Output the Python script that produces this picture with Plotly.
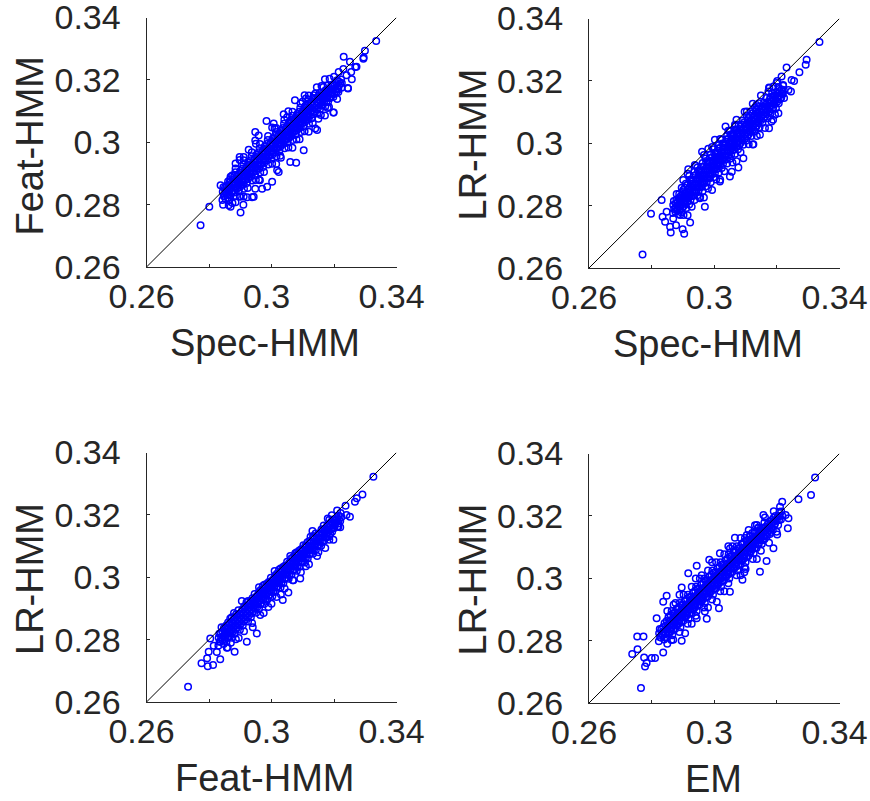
import plotly.graph_objects as go

# ---------------------------------------------------------------------------
# Per-utterance scores of the four systems, one list per axis of each panel.
# The "_B" lists hold the points of the densest middle part of each cloud,
# the "_C" lists the looser points along the edges of each cloud.
# ---------------------------------------------------------------------------

# Panel 1: Spec-HMM (x) against Feat-HMM (y)
SPEC_1 = [
    0.2843, 0.2847, 0.2844, 0.2846,
    0.2860, 0.2856, 0.2859, 0.2857, 0.2861,
    0.2869, 0.2873, 0.2870, 0.2872, 0.2868, 0.2874,
    0.2886, 0.2882, 0.2885, 0.2883, 0.2887, 0.2881, 0.2884,
    0.2895, 0.2899, 0.2896, 0.2898, 0.2894, 0.2900,
    0.2912, 0.2908, 0.2911, 0.2909, 0.2913, 0.2907, 0.2910,
    0.2921, 0.2925, 0.2922, 0.2924, 0.2920, 0.2926,
    0.2938, 0.2934, 0.2937, 0.2935, 0.2939, 0.2933, 0.2936,
    0.2947, 0.2951, 0.2948, 0.2950, 0.2946, 0.2952,
    0.2964, 0.2960, 0.2963, 0.2961, 0.2965, 0.2959, 0.2962,
    0.2973, 0.2977, 0.2974, 0.2976, 0.2972, 0.2978,
    0.2990, 0.2986, 0.2989, 0.2987, 0.2991, 0.2985, 0.2988,
    0.2999, 0.3003, 0.3000, 0.3002, 0.2998, 0.3004,
    0.3016, 0.3012, 0.3015, 0.3013, 0.3017, 0.3011, 0.3014,
    0.3025, 0.3029, 0.3026, 0.3028, 0.3024, 0.3030,
    0.3042, 0.3038, 0.3041, 0.3039, 0.3043, 0.3037, 0.3040,
    0.3051, 0.3055, 0.3052, 0.3054, 0.3050, 0.3056,
    0.3068, 0.3064, 0.3067, 0.3065, 0.3069, 0.3063, 0.3066,
    0.3077, 0.3081, 0.3078, 0.3080, 0.3076, 0.3082,
    0.3094, 0.3090, 0.3093, 0.3091, 0.3095, 0.3089, 0.3092,
    0.3103, 0.3107, 0.3104, 0.3106, 0.3102, 0.3108,
    0.3120, 0.3116, 0.3119, 0.3117, 0.3121, 0.3115, 0.3118,
    0.3129, 0.3133, 0.3130, 0.3132, 0.3128, 0.3134,
    0.3146, 0.3142, 0.3145, 0.3143, 0.3147, 0.3141,
    0.3155, 0.3159, 0.3156, 0.3158, 0.3154,
    0.3172, 0.3168, 0.3171, 0.3169, 0.3173,
    0.3181, 0.3185, 0.3182, 0.3184, 0.3180,
    0.3198, 0.3194, 0.3197, 0.3195,
    0.3207, 0.3211, 0.3208, 0.3210,
    0.3224, 0.3220, 0.3223,
    0.3335, 0.3299, 0.3295, 0.3231, 0.3251, 0.3272,
    0.3245, 0.3199, 0.3186, 0.3075, 0.3099, 0.2984,
    0.3039, 0.3079, 0.2773, 0.2801, 0.2901, 0.2837,
    0.2885, 0.2927, 0.2898, 0.2863, 0.2869, 0.2943,
    0.2986, 0.3018, 0.3146, 0.2869, 0.2948, 0.3007,
    0.3135, 0.3166, 0.2948, 0.2911, 0.2959, 0.2853,
    0.2863, 0.2938, 0.2970, 0.3002, 0.3023, 0.3060,
    0.3103, 0.3140, 0.3198, 0.3244, 0.3257, 0.3268,
    0.3294, 0.3255, 0.3214, 0.2922, 0.2885, 0.2948,
    0.3010, 0.3050, 0.3110, 0.3160, 0.3200, 0.3215,
    0.3230, 0.3240, 0.3225, 0.3030, 0.3090, 0.3150,
    0.3180, 0.2960, 0.2900, 0.2845, 0.2875, 0.2910,
    0.2855,
]
FEAT_1 = [
    0.2815, 0.2828, 0.2841, 0.2856,
    0.2822, 0.2835, 0.2849, 0.2861, 0.2874,
    0.2829, 0.2842, 0.2855, 0.2868, 0.2881, 0.2893,
    0.2827, 0.2840, 0.2853, 0.2866, 0.2879, 0.2892, 0.2904,
    0.2843, 0.2856, 0.2869, 0.2882, 0.2895, 0.2908,
    0.2851, 0.2864, 0.2877, 0.2890, 0.2903, 0.2916, 0.2929,
    0.2869, 0.2882, 0.2895, 0.2908, 0.2921, 0.2934,
    0.2877, 0.2890, 0.2903, 0.2916, 0.2929, 0.2942, 0.2955,
    0.2895, 0.2908, 0.2921, 0.2934, 0.2947, 0.2960,
    0.2903, 0.2916, 0.2929, 0.2942, 0.2955, 0.2968, 0.2981,
    0.2921, 0.2934, 0.2947, 0.2960, 0.2973, 0.2986,
    0.2929, 0.2942, 0.2955, 0.2968, 0.2981, 0.2994, 0.3007,
    0.2947, 0.2960, 0.2973, 0.2986, 0.2999, 0.3012,
    0.2955, 0.2968, 0.2981, 0.2994, 0.3007, 0.3020, 0.3033,
    0.2973, 0.2986, 0.2999, 0.3012, 0.3025, 0.3038,
    0.2981, 0.2994, 0.3007, 0.3020, 0.3033, 0.3046, 0.3059,
    0.2999, 0.3012, 0.3025, 0.3038, 0.3051, 0.3064,
    0.3007, 0.3020, 0.3033, 0.3046, 0.3059, 0.3072, 0.3085,
    0.3025, 0.3038, 0.3051, 0.3064, 0.3077, 0.3090,
    0.3033, 0.3046, 0.3059, 0.3072, 0.3085, 0.3098, 0.3111,
    0.3051, 0.3064, 0.3077, 0.3090, 0.3103, 0.3116,
    0.3059, 0.3072, 0.3085, 0.3098, 0.3111, 0.3124, 0.3137,
    0.3077, 0.3090, 0.3103, 0.3116, 0.3129, 0.3142,
    0.3092, 0.3105, 0.3118, 0.3131, 0.3144, 0.3157,
    0.3106, 0.3119, 0.3132, 0.3145, 0.3158,
    0.3115, 0.3128, 0.3141, 0.3154, 0.3167,
    0.3130, 0.3143, 0.3156, 0.3169, 0.3182,
    0.3145, 0.3158, 0.3171, 0.3184,
    0.3160, 0.3173, 0.3186, 0.3199,
    0.3175, 0.3188, 0.3201,
    0.3325, 0.3293, 0.3272, 0.3274, 0.3258, 0.3242,
    0.3172, 0.3095, 0.3204, 0.3135, 0.3130, 0.3068,
    0.3090, 0.2934, 0.2734, 0.2793, 0.2775, 0.2862,
    0.2932, 0.2976, 0.2953, 0.2814, 0.2793, 0.2825,
    0.2857, 0.2910, 0.3039, 0.2889, 0.3006, 0.3060,
    0.3151, 0.3177, 0.3033, 0.2953, 0.3022, 0.2819,
    0.2798, 0.2824, 0.2851, 0.2873, 0.2905, 0.2937,
    0.2974, 0.3044, 0.3095, 0.3174, 0.3202, 0.3241,
    0.3268, 0.3225, 0.3161, 0.2824, 0.2808, 0.2851,
    0.3045, 0.3080, 0.3140, 0.3180, 0.3210, 0.3225,
    0.3235, 0.3215, 0.3190, 0.2950, 0.3010, 0.3075,
    0.3110, 0.2880, 0.2825, 0.2800, 0.2805, 0.2800,
    0.2840,
]
SPEC_1B = [
    0.2850, 0.2852, 0.2851,
    0.2863, 0.2865, 0.2864, 0.2866,
    0.2876, 0.2878, 0.2877, 0.2879,
    0.2889, 0.2891, 0.2890, 0.2892,
    0.2902, 0.2904, 0.2903, 0.2905,
    0.2915, 0.2917, 0.2916, 0.2918,
    0.2928, 0.2930, 0.2929, 0.2931,
    0.2941, 0.2943, 0.2942, 0.2944,
    0.2954, 0.2956, 0.2955, 0.2957,
    0.2967, 0.2969, 0.2968, 0.2970,
    0.2980, 0.2982, 0.2981, 0.2983,
    0.2993, 0.2995, 0.2994, 0.2996,
    0.3006, 0.3008, 0.3007, 0.3009,
    0.3019, 0.3021, 0.3020, 0.3022,
    0.3032, 0.3034, 0.3033, 0.3035,
    0.3045, 0.3047, 0.3046, 0.3048,
    0.3058, 0.3060, 0.3059, 0.3061,
    0.3071, 0.3073, 0.3072, 0.3074,
    0.3084, 0.3086, 0.3085, 0.3087,
    0.3097, 0.3099, 0.3098, 0.3100,
    0.3110, 0.3112, 0.3111, 0.3113,
    0.3123, 0.3125, 0.3124, 0.3126,
    0.3136, 0.3138, 0.3137, 0.3139,
    0.3149, 0.3151, 0.3150, 0.3152,
    0.3162, 0.3164, 0.3163, 0.3165,
    0.3175, 0.3177, 0.3176, 0.3178,
    0.3188, 0.3190, 0.3189, 0.3191,
    0.3201, 0.3203, 0.3202,
    0.3214, 0.3216, 0.3215,
]
FEAT_1B = [
    0.2827, 0.2840, 0.2853,
    0.2833, 0.2846, 0.2859, 0.2872,
    0.2842, 0.2855, 0.2868, 0.2881,
    0.2851, 0.2864, 0.2877, 0.2890,
    0.2864, 0.2877, 0.2890, 0.2903,
    0.2877, 0.2890, 0.2903, 0.2916,
    0.2890, 0.2903, 0.2916, 0.2929,
    0.2903, 0.2916, 0.2929, 0.2942,
    0.2916, 0.2929, 0.2942, 0.2955,
    0.2929, 0.2942, 0.2955, 0.2968,
    0.2942, 0.2955, 0.2968, 0.2981,
    0.2955, 0.2968, 0.2981, 0.2994,
    0.2968, 0.2981, 0.2994, 0.3007,
    0.2981, 0.2994, 0.3007, 0.3020,
    0.2994, 0.3007, 0.3020, 0.3033,
    0.3007, 0.3020, 0.3033, 0.3046,
    0.3020, 0.3033, 0.3046, 0.3059,
    0.3033, 0.3046, 0.3059, 0.3072,
    0.3046, 0.3059, 0.3072, 0.3085,
    0.3059, 0.3072, 0.3085, 0.3098,
    0.3072, 0.3085, 0.3098, 0.3111,
    0.3085, 0.3098, 0.3111, 0.3124,
    0.3098, 0.3111, 0.3124, 0.3137,
    0.3111, 0.3124, 0.3137, 0.3150,
    0.3120, 0.3133, 0.3146, 0.3159,
    0.3129, 0.3142, 0.3155, 0.3168,
    0.3142, 0.3155, 0.3168, 0.3181,
    0.3155, 0.3168, 0.3181,
    0.3169, 0.3182, 0.3195,
]
SPEC_1C = [
    0.2885, 0.2911, 0.2937, 0.2963, 0.2989, 0.3015,
    0.3041, 0.3067, 0.3093, 0.3119, 0.3145, 0.3171,
    0.2898, 0.2950, 0.3002, 0.3054, 0.3106,
    0.2898, 0.2924, 0.2950, 0.2976, 0.3002, 0.3028, 0.3054,
    0.3080, 0.3106, 0.3132, 0.3158, 0.3184, 0.3210,
    0.2911, 0.2963, 0.3015, 0.3067, 0.3119, 0.3171,
]
FEAT_1C = [
    0.2916, 0.2942, 0.2968, 0.2994, 0.3020, 0.3046,
    0.3072, 0.3098, 0.3124, 0.3150, 0.3176, 0.3202,
    0.2943, 0.2995, 0.3047, 0.3099, 0.3151,
    0.2827, 0.2853, 0.2879, 0.2905, 0.2931, 0.2957, 0.2983,
    0.3009, 0.3035, 0.3061, 0.3087, 0.3113, 0.3139,
    0.2826, 0.2878, 0.2930, 0.2982, 0.3034, 0.3086,
]

# Panel 2: Spec-HMM (x) against LR-HMM (y)
SPEC_2 = [
    0.2868, 0.2872, 0.2869, 0.2871,
    0.2885, 0.2881, 0.2884, 0.2882, 0.2886, 0.2880,
    0.2894, 0.2898, 0.2895, 0.2897, 0.2893, 0.2899, 0.2896,
    0.2911, 0.2907, 0.2910, 0.2908, 0.2912, 0.2906, 0.2909,
    0.2920, 0.2924, 0.2921, 0.2923, 0.2919, 0.2925, 0.2922, 0.2920,
    0.2937, 0.2933, 0.2936, 0.2934, 0.2938, 0.2932, 0.2935, 0.2937,
    0.2946, 0.2950, 0.2947, 0.2949, 0.2945, 0.2951, 0.2948, 0.2946,
    0.2963, 0.2959, 0.2962, 0.2960, 0.2964, 0.2958, 0.2961, 0.2963,
    0.2972, 0.2976, 0.2973, 0.2975, 0.2971, 0.2977, 0.2974, 0.2972,
    0.2989, 0.2985, 0.2988, 0.2986, 0.2990, 0.2984, 0.2987, 0.2989,
    0.2998, 0.3002, 0.2999, 0.3001, 0.2997, 0.3003, 0.3000, 0.2998,
    0.3015, 0.3011, 0.3014, 0.3012, 0.3016, 0.3010, 0.3013, 0.3015,
    0.3024, 0.3028, 0.3025, 0.3027, 0.3023, 0.3029, 0.3026, 0.3024,
    0.3041, 0.3037, 0.3040, 0.3038, 0.3042, 0.3036, 0.3039, 0.3041,
    0.3050, 0.3054, 0.3051, 0.3053, 0.3049, 0.3055, 0.3052, 0.3050,
    0.3067, 0.3063, 0.3066, 0.3064, 0.3068, 0.3062, 0.3065, 0.3067,
    0.3076, 0.3080, 0.3077, 0.3079, 0.3075, 0.3081, 0.3078,
    0.3093, 0.3089, 0.3092, 0.3090, 0.3094, 0.3088, 0.3091,
    0.3102, 0.3106, 0.3103, 0.3105, 0.3101, 0.3107, 0.3104,
    0.3119, 0.3115, 0.3118, 0.3116, 0.3120, 0.3114, 0.3117,
    0.3128, 0.3132, 0.3129, 0.3131, 0.3127, 0.3133, 0.3130,
    0.3145, 0.3141, 0.3144, 0.3142, 0.3146, 0.3140, 0.3143,
    0.3154, 0.3158, 0.3155, 0.3157, 0.3153, 0.3159,
    0.3171, 0.3167, 0.3170, 0.3168, 0.3172, 0.3166,
    0.3180, 0.3184, 0.3181, 0.3183, 0.3179, 0.3185,
    0.3197, 0.3193, 0.3196, 0.3194, 0.3198,
    0.3206, 0.3210, 0.3207, 0.3209, 0.3205,
    0.3223, 0.3219, 0.3222, 0.3220,
    0.3336, 0.3295, 0.3292, 0.3272, 0.3231, 0.3255,
    0.3245, 0.3194, 0.3176, 0.3036, 0.3125, 0.2961,
    0.2917, 0.2832, 0.2798, 0.2771, 0.2835, 0.2859,
    0.2861, 0.2899, 0.2904, 0.2923, 0.2869, 0.2883,
    0.3077, 0.3050, 0.2970, 0.2901, 0.2938, 0.2981,
    0.3002, 0.3066, 0.3104, 0.3135, 0.3173, 0.3199,
    0.3220, 0.3237, 0.3247, 0.3215, 0.3189, 0.2891,
    0.2955, 0.2993, 0.3018, 0.3056, 0.3093, 0.3146,
    0.3183, 0.3205, 0.2848, 0.2878, 0.2843,
]
LR_2 = [
    0.2776, 0.2789, 0.2802, 0.2815,
    0.2772, 0.2785, 0.2798, 0.2811, 0.2824, 0.2837,
    0.2779, 0.2792, 0.2805, 0.2818, 0.2831, 0.2844, 0.2857,
    0.2792, 0.2805, 0.2818, 0.2831, 0.2844, 0.2857, 0.2870,
    0.2804, 0.2817, 0.2830, 0.2843, 0.2856, 0.2869, 0.2882, 0.2895,
    0.2818, 0.2831, 0.2844, 0.2857, 0.2870, 0.2883, 0.2896, 0.2909,
    0.2833, 0.2846, 0.2859, 0.2872, 0.2885, 0.2898, 0.2911, 0.2922,
    0.2847, 0.2860, 0.2873, 0.2886, 0.2899, 0.2912, 0.2925, 0.2937,
    0.2861, 0.2874, 0.2887, 0.2900, 0.2913, 0.2926, 0.2939, 0.2951,
    0.2875, 0.2888, 0.2901, 0.2914, 0.2927, 0.2940, 0.2953, 0.2965,
    0.2891, 0.2904, 0.2917, 0.2930, 0.2943, 0.2956, 0.2969, 0.2981,
    0.2906, 0.2919, 0.2932, 0.2945, 0.2958, 0.2971, 0.2984, 0.2996,
    0.2921, 0.2934, 0.2947, 0.2960, 0.2973, 0.2986, 0.2999, 0.3011,
    0.2935, 0.2948, 0.2961, 0.2974, 0.2987, 0.3000, 0.3013, 0.3025,
    0.2950, 0.2963, 0.2976, 0.2989, 0.3002, 0.3015, 0.3028, 0.3040,
    0.2966, 0.2979, 0.2992, 0.3005, 0.3018, 0.3031, 0.3044, 0.3055,
    0.2981, 0.2994, 0.3007, 0.3020, 0.3033, 0.3046, 0.3059,
    0.2995, 0.3008, 0.3021, 0.3034, 0.3047, 0.3060, 0.3073,
    0.3009, 0.3022, 0.3035, 0.3048, 0.3061, 0.3074, 0.3087,
    0.3023, 0.3036, 0.3049, 0.3062, 0.3075, 0.3088, 0.3101,
    0.3037, 0.3050, 0.3063, 0.3076, 0.3089, 0.3102, 0.3115,
    0.3051, 0.3064, 0.3077, 0.3090, 0.3103, 0.3116, 0.3128,
    0.3066, 0.3079, 0.3092, 0.3105, 0.3118, 0.3131,
    0.3080, 0.3093, 0.3106, 0.3119, 0.3132, 0.3145,
    0.3096, 0.3109, 0.3122, 0.3135, 0.3148, 0.3161,
    0.3112, 0.3125, 0.3138, 0.3151, 0.3164,
    0.3128, 0.3141, 0.3154, 0.3167, 0.3180,
    0.3145, 0.3158, 0.3171, 0.3184,
    0.3325, 0.3268, 0.3252, 0.3228, 0.3243, 0.3200,
    0.3166, 0.3091, 0.3177, 0.3054, 0.2997, 0.2973,
    0.2917, 0.2818, 0.2774, 0.2643, 0.2764, 0.2732,
    0.2714, 0.2724, 0.2710, 0.2746, 0.2759, 0.2786,
    0.2922, 0.2893, 0.2796, 0.2882, 0.2930, 0.2982,
    0.3011, 0.3059, 0.3102, 0.3123, 0.3166, 0.3193,
    0.3187, 0.3171, 0.3203, 0.3214, 0.3182, 0.2770,
    0.2828, 0.2850, 0.2877, 0.2909, 0.2952, 0.3027,
    0.3070, 0.3096, 0.2780, 0.2737, 0.2748,
]
SPEC_2B = [
    0.2876, 0.2878, 0.2877, 0.2879,
    0.2889, 0.2891, 0.2890, 0.2892, 0.2888,
    0.2902, 0.2904, 0.2903, 0.2905, 0.2901,
    0.2915, 0.2917, 0.2916, 0.2918, 0.2914,
    0.2928, 0.2930, 0.2929, 0.2931, 0.2927,
    0.2941, 0.2943, 0.2942, 0.2944, 0.2940,
    0.2954, 0.2956, 0.2955, 0.2957, 0.2953,
    0.2967, 0.2969, 0.2968, 0.2970, 0.2966,
    0.2980, 0.2982, 0.2981, 0.2983, 0.2979,
    0.2993, 0.2995, 0.2994, 0.2996, 0.2992,
    0.3006, 0.3008, 0.3007, 0.3009, 0.3005,
    0.3019, 0.3021, 0.3020, 0.3022, 0.3018,
    0.3032, 0.3034, 0.3033, 0.3035, 0.3031,
    0.3045, 0.3047, 0.3046, 0.3048, 0.3044,
    0.3058, 0.3060, 0.3059, 0.3061, 0.3057,
    0.3071, 0.3073, 0.3072, 0.3074, 0.3070,
    0.3084, 0.3086, 0.3085, 0.3087, 0.3083,
    0.3097, 0.3099, 0.3098, 0.3100, 0.3096,
    0.3110, 0.3112, 0.3111, 0.3113, 0.3109,
    0.3123, 0.3125, 0.3124, 0.3126, 0.3122,
    0.3136, 0.3138, 0.3137, 0.3139, 0.3135,
    0.3149, 0.3151, 0.3150, 0.3152,
    0.3162, 0.3164, 0.3163, 0.3165,
    0.3175, 0.3177, 0.3176, 0.3178,
    0.3188, 0.3190, 0.3189, 0.3191,
    0.3201, 0.3203, 0.3202,
    0.3214, 0.3216, 0.3215,
]
LR_2B = [
    0.2780, 0.2793, 0.2806, 0.2819,
    0.2785, 0.2798, 0.2811, 0.2824, 0.2837,
    0.2798, 0.2811, 0.2824, 0.2837, 0.2850,
    0.2814, 0.2827, 0.2840, 0.2853, 0.2866,
    0.2831, 0.2844, 0.2857, 0.2870, 0.2883,
    0.2845, 0.2858, 0.2871, 0.2884, 0.2897,
    0.2858, 0.2871, 0.2884, 0.2897, 0.2910,
    0.2873, 0.2886, 0.2899, 0.2912, 0.2925,
    0.2887, 0.2900, 0.2913, 0.2926, 0.2939,
    0.2902, 0.2915, 0.2928, 0.2941, 0.2954,
    0.2917, 0.2930, 0.2943, 0.2956, 0.2969,
    0.2932, 0.2945, 0.2958, 0.2971, 0.2984,
    0.2947, 0.2960, 0.2973, 0.2986, 0.2999,
    0.2961, 0.2974, 0.2987, 0.3000, 0.3013,
    0.2977, 0.2990, 0.3003, 0.3016, 0.3029,
    0.2989, 0.3002, 0.3015, 0.3028, 0.3041,
    0.3001, 0.3014, 0.3027, 0.3040, 0.3053,
    0.3015, 0.3028, 0.3041, 0.3054, 0.3067,
    0.3029, 0.3042, 0.3055, 0.3068, 0.3081,
    0.3043, 0.3056, 0.3069, 0.3082, 0.3095,
    0.3056, 0.3069, 0.3082, 0.3095, 0.3108,
    0.3074, 0.3087, 0.3100, 0.3113,
    0.3085, 0.3098, 0.3111, 0.3124,
    0.3101, 0.3114, 0.3127, 0.3140,
    0.3113, 0.3126, 0.3139, 0.3152,
    0.3133, 0.3146, 0.3159,
    0.3146, 0.3159, 0.3172,
]
SPEC_2C = [
    0.2915, 0.2941, 0.2967, 0.2993, 0.3019, 0.3045,
    0.3071, 0.3097, 0.3123, 0.3149, 0.3175, 0.3201,
    0.2902, 0.2928, 0.2954, 0.2980, 0.3006, 0.3032,
    0.3058, 0.3084, 0.3110, 0.3136, 0.3162, 0.3188,
    0.2915, 0.2967, 0.3019, 0.3071, 0.3123, 0.3175,
]
LR_2C = [
    0.2902, 0.2928, 0.2962, 0.2988, 0.3014, 0.3040,
    0.3075, 0.3101, 0.3127, 0.3153, 0.3179, 0.3200,
    0.2770, 0.2796, 0.2824, 0.2855, 0.2884, 0.2910,
    0.2938, 0.2971, 0.2997, 0.3023, 0.3049, 0.3075,
    0.2769, 0.2826, 0.2883, 0.2942, 0.2996, 0.3048,
]

# Panel 3: Feat-HMM (x) against LR-HMM (y)
FEAT_3 = [
    0.2830, 0.2834, 0.2831, 0.2833,
    0.2847, 0.2843, 0.2846, 0.2844, 0.2848,
    0.2856, 0.2860, 0.2857, 0.2859, 0.2855, 0.2861,
    0.2873, 0.2869, 0.2872, 0.2870, 0.2874, 0.2868,
    0.2882, 0.2886, 0.2883, 0.2885, 0.2881, 0.2887,
    0.2899, 0.2895, 0.2898, 0.2896, 0.2900, 0.2894,
    0.2908, 0.2912, 0.2909, 0.2911, 0.2907, 0.2913,
    0.2925, 0.2921, 0.2924, 0.2922, 0.2926, 0.2920,
    0.2934, 0.2938, 0.2935, 0.2937, 0.2933, 0.2939,
    0.2951, 0.2947, 0.2950, 0.2948, 0.2952, 0.2946,
    0.2960, 0.2964, 0.2961, 0.2963, 0.2959, 0.2965,
    0.2977, 0.2973, 0.2976, 0.2974, 0.2978, 0.2972,
    0.2986, 0.2990, 0.2987, 0.2989, 0.2985, 0.2991,
    0.3003, 0.2999, 0.3002, 0.3000, 0.3004, 0.2998,
    0.3012, 0.3016, 0.3013, 0.3015, 0.3011, 0.3017,
    0.3029, 0.3025, 0.3028, 0.3026, 0.3030, 0.3024,
    0.3038, 0.3042, 0.3039, 0.3041, 0.3037, 0.3043,
    0.3055, 0.3051, 0.3054, 0.3052, 0.3056, 0.3050,
    0.3064, 0.3068, 0.3065, 0.3067, 0.3063, 0.3069,
    0.3081, 0.3077, 0.3080, 0.3078, 0.3082, 0.3076,
    0.3090, 0.3094, 0.3091, 0.3093, 0.3089, 0.3095,
    0.3107, 0.3103, 0.3106, 0.3104, 0.3108, 0.3102,
    0.3116, 0.3120, 0.3117, 0.3119, 0.3115, 0.3121,
    0.3133, 0.3129, 0.3132, 0.3130, 0.3134,
    0.3142, 0.3146, 0.3143, 0.3145, 0.3141,
    0.3159, 0.3155, 0.3158, 0.3156, 0.3160,
    0.3168, 0.3172, 0.3169, 0.3171, 0.3167,
    0.3185, 0.3181, 0.3184, 0.3182,
    0.3194, 0.3198, 0.3195, 0.3197,
    0.3211, 0.3207, 0.3210,
    0.3220, 0.3224, 0.3221,
    0.3326, 0.3291, 0.3273, 0.3267, 0.3251, 0.3237,
    0.3214, 0.3131, 0.3092, 0.3054, 0.3036, 0.2905,
    0.2733, 0.2776, 0.2796, 0.2813, 0.2794, 0.2799,
    0.2836, 0.2882, 0.2804, 0.2857, 0.2921, 0.2953,
    0.3193, 0.2870, 0.2895, 0.2940, 0.2975, 0.3000,
    0.3030, 0.3070, 0.3110, 0.3150, 0.3185, 0.3220,
    0.3240, 0.2815, 0.2825, 0.2840, 0.2880, 0.2960,
    0.3010, 0.3060, 0.3125, 0.3180, 0.3210,
]
LR_3 = [
    0.2780, 0.2793, 0.2806, 0.2819,
    0.2786, 0.2799, 0.2812, 0.2825, 0.2838,
    0.2793, 0.2806, 0.2819, 0.2832, 0.2845, 0.2855,
    0.2806, 0.2819, 0.2832, 0.2845, 0.2858, 0.2868,
    0.2819, 0.2832, 0.2845, 0.2858, 0.2871, 0.2881,
    0.2832, 0.2845, 0.2858, 0.2871, 0.2884, 0.2894,
    0.2845, 0.2858, 0.2871, 0.2884, 0.2897, 0.2907,
    0.2858, 0.2871, 0.2884, 0.2897, 0.2910, 0.2920,
    0.2872, 0.2885, 0.2898, 0.2911, 0.2924, 0.2933,
    0.2886, 0.2899, 0.2912, 0.2925, 0.2938, 0.2946,
    0.2900, 0.2913, 0.2926, 0.2939, 0.2952, 0.2959,
    0.2914, 0.2927, 0.2940, 0.2953, 0.2966, 0.2972,
    0.2927, 0.2940, 0.2953, 0.2966, 0.2979, 0.2985,
    0.2940, 0.2953, 0.2966, 0.2979, 0.2992, 0.2998,
    0.2953, 0.2966, 0.2979, 0.2992, 0.3005, 0.3011,
    0.2967, 0.2980, 0.2993, 0.3006, 0.3019, 0.3024,
    0.2981, 0.2994, 0.3007, 0.3020, 0.3033, 0.3037,
    0.2995, 0.3008, 0.3021, 0.3034, 0.3046, 0.3050,
    0.3008, 0.3021, 0.3034, 0.3047, 0.3060, 0.3064,
    0.3021, 0.3034, 0.3047, 0.3060, 0.3073, 0.3077,
    0.3034, 0.3047, 0.3060, 0.3073, 0.3086, 0.3090,
    0.3047, 0.3060, 0.3073, 0.3086, 0.3099, 0.3103,
    0.3060, 0.3073, 0.3086, 0.3099, 0.3112, 0.3116,
    0.3075, 0.3088, 0.3101, 0.3114, 0.3127,
    0.3088, 0.3101, 0.3114, 0.3127, 0.3140,
    0.3101, 0.3114, 0.3127, 0.3140, 0.3153,
    0.3116, 0.3129, 0.3142, 0.3155, 0.3166,
    0.3131, 0.3144, 0.3157, 0.3170,
    0.3146, 0.3159, 0.3172, 0.3185,
    0.3163, 0.3176, 0.3189,
    0.3180, 0.3193, 0.3206,
    0.3322, 0.3265, 0.3253, 0.3242, 0.3194, 0.3229,
    0.3162, 0.3148, 0.2996, 0.2951, 0.2927, 0.2924,
    0.2649, 0.2724, 0.2715, 0.2719, 0.2740, 0.2761,
    0.2737, 0.2761, 0.2804, 0.2774, 0.2793, 0.2820,
    0.3199, 0.2790, 0.2805, 0.2840, 0.2885, 0.2915,
    0.2945, 0.2990, 0.3035, 0.3080, 0.3120, 0.3160,
    0.3200, 0.2780, 0.2760, 0.2840, 0.2885, 0.2968,
    0.3020, 0.3068, 0.3130, 0.3188, 0.3214,
]
FEAT_3B = [
    0.2837, 0.2839, 0.2838,
    0.2850, 0.2852, 0.2851, 0.2853,
    0.2863, 0.2865, 0.2864, 0.2866,
    0.2876, 0.2878, 0.2877, 0.2879,
    0.2889, 0.2891, 0.2890, 0.2892,
    0.2902, 0.2904, 0.2903, 0.2905,
    0.2915, 0.2917, 0.2916, 0.2918,
    0.2928, 0.2930, 0.2929, 0.2931,
    0.2941, 0.2943, 0.2942, 0.2944,
    0.2954, 0.2956, 0.2955, 0.2957,
    0.2967, 0.2969, 0.2968, 0.2970,
    0.2980, 0.2982, 0.2981, 0.2983,
    0.2993, 0.2995, 0.2994, 0.2996,
    0.3006, 0.3008, 0.3007, 0.3009,
    0.3019, 0.3021, 0.3020, 0.3022,
    0.3032, 0.3034, 0.3033, 0.3035,
    0.3045, 0.3047, 0.3046, 0.3048,
    0.3058, 0.3060, 0.3059, 0.3061,
    0.3071, 0.3073, 0.3072, 0.3074,
    0.3084, 0.3086, 0.3085, 0.3087,
    0.3097, 0.3099, 0.3098, 0.3100,
    0.3110, 0.3112, 0.3111, 0.3113,
    0.3123, 0.3125, 0.3124, 0.3126,
    0.3136, 0.3138, 0.3137, 0.3139,
    0.3149, 0.3151, 0.3150, 0.3152,
    0.3162, 0.3164, 0.3163, 0.3165,
    0.3175, 0.3177, 0.3176, 0.3178,
    0.3188, 0.3190, 0.3189, 0.3191,
    0.3201, 0.3203, 0.3202,
    0.3214, 0.3216, 0.3215,
]
LR_3B = [
    0.2793, 0.2806, 0.2819,
    0.2799, 0.2812, 0.2825, 0.2838,
    0.2811, 0.2824, 0.2837, 0.2850,
    0.2825, 0.2838, 0.2851, 0.2864,
    0.2838, 0.2851, 0.2864, 0.2877,
    0.2851, 0.2864, 0.2877, 0.2890,
    0.2864, 0.2877, 0.2890, 0.2903,
    0.2877, 0.2890, 0.2903, 0.2916,
    0.2890, 0.2903, 0.2916, 0.2929,
    0.2904, 0.2917, 0.2930, 0.2943,
    0.2917, 0.2930, 0.2943, 0.2956,
    0.2930, 0.2943, 0.2956, 0.2969,
    0.2943, 0.2956, 0.2969, 0.2982,
    0.2956, 0.2969, 0.2982, 0.2995,
    0.2970, 0.2983, 0.2996, 0.3009,
    0.2983, 0.2996, 0.3009, 0.3022,
    0.2997, 0.3010, 0.3023, 0.3036,
    0.3010, 0.3023, 0.3036, 0.3049,
    0.3023, 0.3036, 0.3049, 0.3062,
    0.3036, 0.3049, 0.3062, 0.3075,
    0.3049, 0.3062, 0.3075, 0.3088,
    0.3062, 0.3075, 0.3088, 0.3101,
    0.3075, 0.3088, 0.3101, 0.3114,
    0.3088, 0.3101, 0.3114, 0.3127,
    0.3101, 0.3114, 0.3127, 0.3140,
    0.3115, 0.3128, 0.3141, 0.3154,
    0.3127, 0.3140, 0.3153, 0.3166,
    0.3139, 0.3152, 0.3165, 0.3178,
    0.3158, 0.3171, 0.3184,
    0.3172, 0.3185, 0.3198,
]
FEAT_3C = [
    0.2860, 0.2886, 0.2912, 0.2938, 0.2964, 0.2990, 0.3016,
    0.3042, 0.3068, 0.3094, 0.3120, 0.3146, 0.3172, 0.3198,
    0.2873, 0.2925, 0.2977, 0.3029, 0.3081, 0.3133, 0.3185,
]
LR_3C = [
    0.2775, 0.2801, 0.2827, 0.2853, 0.2879, 0.2905, 0.2937,
    0.2964, 0.2990, 0.3016, 0.3042, 0.3068, 0.3094, 0.3120,
    0.2872, 0.2924, 0.2976, 0.3028, 0.3080, 0.3132, 0.3184,
]

# Panel 4: EM (x) against LR-HMM (y)
EM_4 = [
    0.2823, 0.2827, 0.2824, 0.2826,
    0.2840, 0.2836, 0.2839, 0.2837, 0.2841,
    0.2849, 0.2853, 0.2850, 0.2852, 0.2848, 0.2854,
    0.2866, 0.2862, 0.2865, 0.2863, 0.2867, 0.2861, 0.2864,
    0.2875, 0.2879, 0.2876, 0.2878, 0.2874, 0.2880,
    0.2892, 0.2888, 0.2891, 0.2889, 0.2893, 0.2887, 0.2890,
    0.2901, 0.2905, 0.2902, 0.2904, 0.2900, 0.2906,
    0.2918, 0.2914, 0.2917, 0.2915, 0.2919, 0.2913, 0.2916,
    0.2927, 0.2931, 0.2928, 0.2930, 0.2926, 0.2932,
    0.2944, 0.2940, 0.2943, 0.2941, 0.2945, 0.2939, 0.2942,
    0.2953, 0.2957, 0.2954, 0.2956, 0.2952, 0.2958,
    0.2970, 0.2966, 0.2969, 0.2967, 0.2971, 0.2965, 0.2968,
    0.2979, 0.2983, 0.2980, 0.2982, 0.2978, 0.2984,
    0.2996, 0.2992, 0.2995, 0.2993, 0.2997, 0.2991, 0.2994,
    0.3005, 0.3009, 0.3006, 0.3008, 0.3004, 0.3010,
    0.3022, 0.3018, 0.3021, 0.3019, 0.3023, 0.3017, 0.3020,
    0.3031, 0.3035, 0.3032, 0.3034, 0.3030, 0.3036,
    0.3048, 0.3044, 0.3047, 0.3045, 0.3049, 0.3043, 0.3046,
    0.3057, 0.3061, 0.3058, 0.3060, 0.3056, 0.3062,
    0.3074, 0.3070, 0.3073, 0.3071, 0.3075, 0.3069, 0.3072,
    0.3083, 0.3087, 0.3084, 0.3086, 0.3082, 0.3088,
    0.3100, 0.3096, 0.3099, 0.3097, 0.3101, 0.3095, 0.3098,
    0.3109, 0.3113, 0.3110, 0.3112, 0.3108, 0.3114,
    0.3126, 0.3122, 0.3125, 0.3123, 0.3127, 0.3121,
    0.3135, 0.3139, 0.3136, 0.3138, 0.3134, 0.3140,
    0.3152, 0.3148, 0.3151, 0.3149, 0.3153,
    0.3161, 0.3165, 0.3162, 0.3164, 0.3160,
    0.3178, 0.3174, 0.3177, 0.3175,
    0.3187, 0.3191, 0.3188, 0.3190,
    0.3204, 0.3200, 0.3203,
    0.3213, 0.3217, 0.3214,
    0.3322, 0.3309, 0.3269, 0.3217, 0.3210, 0.3228,
    0.3237, 0.3235, 0.3167, 0.3090, 0.3096, 0.3066,
    0.3015, 0.2944, 0.2917, 0.2848, 0.2837, 0.2754,
    0.2774, 0.2738, 0.2755, 0.2766, 0.2779, 0.2784,
    0.2776, 0.2800, 0.2837, 0.2896, 0.2976, 0.3018,
    0.3104, 0.3157, 0.2896, 0.2984, 0.2816, 0.2870,
    0.2960, 0.3050, 0.3130, 0.3190, 0.2970, 0.2944,
    0.2907, 0.2869, 0.3008, 0.3050, 0.3146, 0.3189,
    0.3199, 0.2811, 0.3100, 0.2850,
]
LR_4 = [
    0.2798, 0.2811, 0.2824, 0.2837,
    0.2804, 0.2817, 0.2830, 0.2843, 0.2856,
    0.2811, 0.2824, 0.2837, 0.2850, 0.2863, 0.2876,
    0.2817, 0.2830, 0.2843, 0.2856, 0.2869, 0.2882, 0.2895,
    0.2837, 0.2850, 0.2863, 0.2876, 0.2889, 0.2902,
    0.2843, 0.2856, 0.2869, 0.2882, 0.2895, 0.2908, 0.2921,
    0.2863, 0.2876, 0.2889, 0.2902, 0.2915, 0.2928,
    0.2869, 0.2882, 0.2895, 0.2908, 0.2921, 0.2934, 0.2947,
    0.2889, 0.2902, 0.2915, 0.2928, 0.2941, 0.2954,
    0.2895, 0.2908, 0.2921, 0.2934, 0.2947, 0.2960, 0.2973,
    0.2915, 0.2928, 0.2941, 0.2954, 0.2967, 0.2980,
    0.2921, 0.2934, 0.2947, 0.2960, 0.2973, 0.2986, 0.2999,
    0.2941, 0.2954, 0.2967, 0.2980, 0.2993, 0.3006,
    0.2947, 0.2960, 0.2973, 0.2986, 0.2999, 0.3012, 0.3025,
    0.2967, 0.2980, 0.2993, 0.3006, 0.3019, 0.3032,
    0.2973, 0.2986, 0.2999, 0.3012, 0.3025, 0.3038, 0.3051,
    0.2993, 0.3006, 0.3019, 0.3032, 0.3045, 0.3058,
    0.2999, 0.3012, 0.3025, 0.3038, 0.3051, 0.3064, 0.3077,
    0.3019, 0.3032, 0.3045, 0.3058, 0.3071, 0.3084,
    0.3025, 0.3038, 0.3051, 0.3064, 0.3077, 0.3090, 0.3103,
    0.3045, 0.3058, 0.3071, 0.3084, 0.3097, 0.3110,
    0.3051, 0.3064, 0.3077, 0.3090, 0.3103, 0.3116, 0.3129,
    0.3071, 0.3084, 0.3097, 0.3110, 0.3123, 0.3136,
    0.3080, 0.3093, 0.3106, 0.3119, 0.3132, 0.3145,
    0.3097, 0.3110, 0.3123, 0.3136, 0.3149, 0.3162,
    0.3110, 0.3123, 0.3136, 0.3149, 0.3162,
    0.3126, 0.3139, 0.3152, 0.3165, 0.3178,
    0.3142, 0.3155, 0.3168, 0.3181,
    0.3155, 0.3168, 0.3181, 0.3194,
    0.3171, 0.3184, 0.3197,
    0.3188, 0.3201, 0.3214,
    0.3323, 0.3267, 0.3253, 0.3245, 0.3229, 0.3203,
    0.3192, 0.3160, 0.3055, 0.2995, 0.3019, 0.3130,
    0.2904, 0.3040, 0.3016, 0.2944, 0.2925, 0.2813,
    0.2813, 0.2757, 0.2772, 0.2648, 0.2717, 0.2728,
    0.2746, 0.2744, 0.2762, 0.2800, 0.2870, 0.3080,
    0.3139, 0.3203, 0.2970, 0.3059, 0.2872, 0.2915,
    0.3010, 0.3095, 0.3170, 0.3215, 0.2893, 0.2872,
    0.2824, 0.2803, 0.2925, 0.2957, 0.3021, 0.3096,
    0.3149, 0.2744, 0.3030, 0.2790,
]
EM_4B = [
    0.2830, 0.2832, 0.2831,
    0.2843, 0.2845, 0.2844, 0.2846,
    0.2856, 0.2858, 0.2857, 0.2859, 0.2855,
    0.2869, 0.2871, 0.2870, 0.2872, 0.2868,
    0.2882, 0.2884, 0.2883, 0.2885, 0.2881,
    0.2895, 0.2897, 0.2896, 0.2898, 0.2894,
    0.2908, 0.2910, 0.2909, 0.2911, 0.2907,
    0.2921, 0.2923, 0.2922, 0.2924, 0.2920,
    0.2934, 0.2936, 0.2935, 0.2937, 0.2933,
    0.2947, 0.2949, 0.2948, 0.2950, 0.2946,
    0.2960, 0.2962, 0.2961, 0.2963, 0.2959,
    0.2973, 0.2975, 0.2974, 0.2976, 0.2972,
    0.2986, 0.2988, 0.2987, 0.2989, 0.2985,
    0.2999, 0.3001, 0.3000, 0.3002, 0.2998,
    0.3012, 0.3014, 0.3013, 0.3015, 0.3011,
    0.3025, 0.3027, 0.3026, 0.3028, 0.3024,
    0.3038, 0.3040, 0.3039, 0.3041, 0.3037,
    0.3051, 0.3053, 0.3052, 0.3054, 0.3050,
    0.3064, 0.3066, 0.3065, 0.3067, 0.3063,
    0.3077, 0.3079, 0.3078, 0.3080, 0.3076,
    0.3090, 0.3092, 0.3091, 0.3093, 0.3089,
    0.3103, 0.3105, 0.3104, 0.3106, 0.3102,
    0.3116, 0.3118, 0.3117, 0.3119, 0.3115,
    0.3129, 0.3131, 0.3130, 0.3132, 0.3128,
    0.3142, 0.3144, 0.3143, 0.3145, 0.3141,
    0.3155, 0.3157, 0.3156, 0.3158,
    0.3168, 0.3170, 0.3169, 0.3171,
    0.3181, 0.3183, 0.3182, 0.3184,
    0.3194, 0.3196, 0.3195,
    0.3207, 0.3209, 0.3208,
]
LR_4B = [
    0.2810, 0.2823, 0.2836,
    0.2810, 0.2823, 0.2836, 0.2849,
    0.2823, 0.2836, 0.2849, 0.2862, 0.2875,
    0.2836, 0.2849, 0.2862, 0.2875, 0.2888,
    0.2849, 0.2862, 0.2875, 0.2888, 0.2901,
    0.2862, 0.2875, 0.2888, 0.2901, 0.2914,
    0.2875, 0.2888, 0.2901, 0.2914, 0.2927,
    0.2888, 0.2901, 0.2914, 0.2927, 0.2940,
    0.2901, 0.2914, 0.2927, 0.2940, 0.2953,
    0.2914, 0.2927, 0.2940, 0.2953, 0.2966,
    0.2927, 0.2940, 0.2953, 0.2966, 0.2979,
    0.2940, 0.2953, 0.2966, 0.2979, 0.2992,
    0.2953, 0.2966, 0.2979, 0.2992, 0.3005,
    0.2966, 0.2979, 0.2992, 0.3005, 0.3018,
    0.2979, 0.2992, 0.3005, 0.3018, 0.3031,
    0.2992, 0.3005, 0.3018, 0.3031, 0.3044,
    0.3005, 0.3018, 0.3031, 0.3044, 0.3057,
    0.3018, 0.3031, 0.3044, 0.3057, 0.3070,
    0.3031, 0.3044, 0.3057, 0.3070, 0.3083,
    0.3044, 0.3057, 0.3070, 0.3083, 0.3096,
    0.3057, 0.3070, 0.3083, 0.3096, 0.3109,
    0.3070, 0.3083, 0.3096, 0.3109, 0.3122,
    0.3083, 0.3096, 0.3109, 0.3122, 0.3135,
    0.3096, 0.3109, 0.3122, 0.3135, 0.3148,
    0.3109, 0.3122, 0.3135, 0.3148, 0.3161,
    0.3122, 0.3135, 0.3148, 0.3161,
    0.3135, 0.3148, 0.3161, 0.3174,
    0.3148, 0.3161, 0.3174, 0.3187,
    0.3174, 0.3187, 0.3200,
    0.3187, 0.3200, 0.3213,
]
EM_4C = [
    0.2850, 0.2876, 0.2902, 0.2928, 0.2954, 0.2980, 0.3006,
    0.3032, 0.3058, 0.3084, 0.3110, 0.3136, 0.3162,
    0.2863, 0.2889, 0.2915, 0.2941, 0.2967, 0.2993, 0.3019,
    0.3045, 0.3071, 0.3097, 0.3123, 0.3149, 0.3175, 0.3201,
    0.2889, 0.2941, 0.2993, 0.3045,
    0.2928, 0.2980, 0.3032, 0.3084, 0.3136,
]
LR_4C = [
    0.2895, 0.2921, 0.2947, 0.2973, 0.2999, 0.3025, 0.3051,
    0.3077, 0.3103, 0.3129, 0.3155, 0.3171, 0.3195,
    0.2802, 0.2828, 0.2854, 0.2880, 0.2906, 0.2932, 0.2958,
    0.2984, 0.3010, 0.3036, 0.3062, 0.3088, 0.3114, 0.3140,
    0.2947, 0.2999, 0.3051, 0.3103,
    0.2854, 0.2906, 0.2958, 0.3010, 0.3062,
]

# Shared axis settings
AX_RANGE = [0.26, 0.34]
TICK_VALS = [0.26, 0.28, 0.30, 0.32, 0.34]
X_TICK_TEXT = ["0.26", "", "0.3", "", "0.34"]
Y_TICK_TEXT = ["0.26", "0.28", "0.3", "0.32", "0.34"]
X_TITLES = ["Spec-HMM", "Spec-HMM", "Feat-HMM", "EM"]
Y_TITLES = ["Feat-HMM", "LR-HMM", "LR-HMM", "LR-HMM"]

PANELS = [
    (SPEC_1 + SPEC_1B + SPEC_1C, FEAT_1 + FEAT_1B + FEAT_1C),
    (SPEC_2 + SPEC_2B + SPEC_2C, LR_2 + LR_2B + LR_2C),
    (FEAT_3 + FEAT_3B + FEAT_3C, LR_3 + LR_3B + LR_3C),
    (EM_4 + EM_4B + EM_4C, LR_4 + LR_4B + LR_4C),
]
for xs, ys in PANELS:
    assert len(xs) == len(ys)

# ---------------------------------------------------------------------------
# Layout geometry (pixels in a 870 x 801 canvas)
# ---------------------------------------------------------------------------
W, H = 870, 801
# left, right, top, bottom of each plotting box
BOXES = [
    (146.5, 396.5, 17.5, 267.0),
    (589.0, 839.5, 18.5, 268.0),
    (146.5, 396.5, 452.5, 702.0),
    (589.0, 839.5, 453.5, 703.0),
]
# centre of the x-title text and of the rotated y-title text
X_TITLE_POS = [(265.0, 342.8), (707.5, 343.8), (264.7, 778.3), (713.3, 779.3)]
Y_TITLE_POS = [(29.5, 146.0), (472.5, 145.0), (30.0, 579.0), (472.5, 580.0)]

FONT = "Liberation Sans, Arial, Helvetica, sans-serif"
INK = "#262626"
TICK_SIZE = 34
TITLE_SIZE = 38


def px_x(p):
    return p / W


def px_y(p):
    return 1 - p / H


fig = go.Figure()
layout = dict(
    width=W,
    height=H,
    margin=dict(l=0, r=0, t=0, b=0, autoexpand=False),
    paper_bgcolor="white",
    plot_bgcolor="white",
    showlegend=False,
    font=dict(family=FONT, color=INK),
    annotations=[],
)

for i, (xs, ys) in enumerate(PANELS):
    n = i + 1
    xa = "x" if n == 1 else f"x{n}"
    ya = "y" if n == 1 else f"y{n}"
    left, right, top, bottom = BOXES[i]

    fig.add_trace(go.Scatter(
        x=xs, y=ys, xaxis=xa, yaxis=ya, mode="markers",
        marker=dict(symbol="circle-open", size=6.5, color="#0000ff",
                    line=dict(width=1.5, color="#0000ff")),
        hoverinfo="skip", cliponaxis=False,
    ))
    # y = x reference line across the full axis range
    fig.add_trace(go.Scatter(
        x=AX_RANGE, y=AX_RANGE, xaxis=xa, yaxis=ya, mode="lines",
        line=dict(color="black", width=1), hoverinfo="skip",
    ))

    common = dict(
        range=AX_RANGE, tickvals=TICK_VALS, ticks="inside", ticklen=3,
        tickwidth=1, tickcolor=INK, showline=True, linecolor=INK,
        linewidth=1, showgrid=False, zeroline=False, fixedrange=True,
        automargin=False, ticklabeloverflow="allow",
        tickfont=dict(family=FONT, size=TICK_SIZE, color=INK),
    )
    layout["xaxis" if n == 1 else f"xaxis{n}"] = dict(
        common, domain=[px_x(left), px_x(right)], anchor=ya,
        ticktext=X_TICK_TEXT, ticklabelstandoff=-1, ticklabelshift=-5,
    )
    layout["yaxis" if n == 1 else f"yaxis{n}"] = dict(
        common, domain=[px_y(bottom), px_y(top)], anchor=xa,
        ticktext=Y_TICK_TEXT, ticklabelstandoff=18,
    )

    tx, ty = X_TITLE_POS[i]
    layout["annotations"].append(dict(
        text=X_TITLES[i], x=px_x(tx), y=px_y(ty), xref="paper", yref="paper",
        xanchor="center", yanchor="middle", showarrow=False, borderpad=0,
        font=dict(family=FONT, size=TITLE_SIZE, color=INK),
    ))
    vx, vy = Y_TITLE_POS[i]
    layout["annotations"].append(dict(
        text=Y_TITLES[i], x=px_x(vx), y=px_y(vy), xref="paper", yref="paper",
        xanchor="center", yanchor="middle", textangle=-90, showarrow=False,
        borderpad=0, font=dict(family=FONT, size=TITLE_SIZE, color=INK),
    ))

fig.update_layout(**layout)
fig.write_html("out.html")
